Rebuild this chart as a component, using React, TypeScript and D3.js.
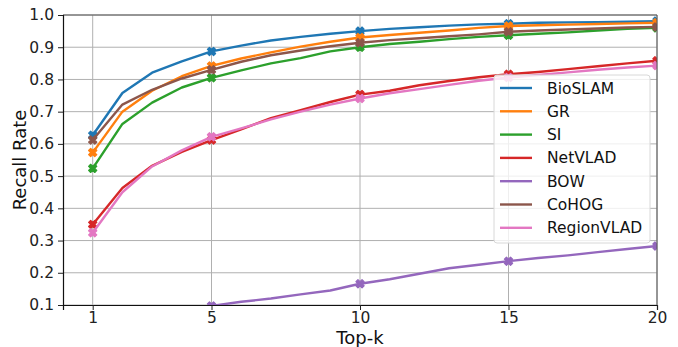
import React, { useEffect, useRef } from 'react';
import * as d3 from 'd3';

const topK = d3.range(1, 21);
const xTicks = [1, 5, 10, 15, 20];
const yTicks = [0.1, 0.2, 0.3, 0.4, 0.5, 0.6, 0.7, 0.8, 0.9, 1.0];

const bioslam = [0.627, 0.758, 0.821, 0.856, 0.887, 0.905, 0.921, 0.932, 0.942, 0.95, 0.957, 0.962, 0.967, 0.971, 0.973, 0.976, 0.977, 0.978, 0.979, 0.981];
const gr = [0.573, 0.7, 0.765, 0.81, 0.842, 0.865, 0.884, 0.902, 0.917, 0.93, 0.938, 0.945, 0.952, 0.96, 0.966, 0.968, 0.97, 0.972, 0.974, 0.976];
const si = [0.524, 0.662, 0.728, 0.775, 0.805, 0.828, 0.85, 0.866, 0.887, 0.9, 0.91, 0.917, 0.925, 0.932, 0.937, 0.942, 0.946, 0.952, 0.957, 0.96];
const netvlad = [0.35, 0.463, 0.532, 0.575, 0.612, 0.645, 0.68, 0.705, 0.73, 0.753, 0.765, 0.782, 0.795, 0.807, 0.816, 0.823, 0.832, 0.841, 0.85, 0.858];
const bow = [0.03, 0.05, 0.07, 0.083, 0.097, 0.11, 0.12, 0.133, 0.145, 0.166, 0.18, 0.197, 0.214, 0.225, 0.236, 0.246, 0.254, 0.264, 0.274, 0.283];
const cohog = [0.612, 0.722, 0.768, 0.803, 0.83, 0.855, 0.875, 0.89, 0.903, 0.914, 0.922, 0.928, 0.934, 0.94, 0.948, 0.952, 0.955, 0.958, 0.961, 0.963];
const regionvlad = [0.324, 0.45, 0.53, 0.58, 0.622, 0.648, 0.676, 0.7, 0.722, 0.741, 0.757, 0.77, 0.783, 0.796, 0.806, 0.814, 0.822, 0.83, 0.837, 0.843];

const seriesNames = ['BioSLAM', 'GR', 'SI', 'NetVLAD', 'BOW', 'CoHOG', 'RegionVLAD'];
const seriesValues = [bioslam, gr, si, netvlad, bow, cohog, regionvlad];
const colors = ['#1f77b4', '#ff7f0e', '#2ca02c', '#d62728', '#9467bd', '#8c564b', '#e377c2'];

const W = 678;
const H = 347;
const margin = { top: 15, right: 21, bottom: 42, left: 63 };

export default function App() {
  const ref = useRef<SVGSVGElement>(null);

  useEffect(() => {
    const svg = d3.select(ref.current);
    svg.selectAll('*').remove();
    const font = 'DejaVu Sans, sans-serif';

    const x = d3.scaleLinear().domain([0, 20]).range([margin.left, W - margin.right]);
    const y = d3.scaleLinear().domain([0.1, 1.0]).range([H - margin.bottom, margin.top]);

    svg.append('rect').attr('width', W).attr('height', H).attr('fill', '#fff');

    svg.append('clipPath').attr('id', 'plot-clip')
      .append('rect')
      .attr('x', margin.left).attr('y', margin.top)
      .attr('width', x(20) - margin.left).attr('height', y(0.1) - margin.top);

    // grid
    const grid = svg.append('g').attr('stroke', '#b0b0b0').attr('stroke-width', 1);
    xTicks.forEach((t) => {
      grid.append('line').attr('x1', x(t)).attr('x2', x(t)).attr('y1', y(0.1)).attr('y2', y(1.0));
    });
    yTicks.forEach((t) => {
      grid.append('line').attr('x1', x(0)).attr('x2', x(20)).attr('y1', y(t)).attr('y2', y(t));
    });

    // lines
    const line = d3.line<number>().x((_, i) => x(topK[i])).y((d) => y(d));
    const plot = svg.append('g').attr('clip-path', 'url(#plot-clip)');
    const marker = d3.symbol().type(d3.symbolCross).size(42);
    seriesValues.forEach((vals, si) => {
      plot.append('path').datum(vals)
        .attr('d', line)
        .attr('fill', 'none')
        .attr('stroke', colors[si])
        .attr('stroke-width', 2.4)
        .attr('stroke-linejoin', 'round');
      xTicks.forEach((k) => {
        const v = vals[k - 1];
        plot.append('path')
          .attr('d', marker)
          .attr('transform', `translate(${x(k)},${y(v)}) rotate(45)`)
          .attr('fill', colors[si])
          .attr('stroke', colors[si])
          .attr('stroke-width', 1.2)
          .attr('stroke-linejoin', 'round');
      });
    });

    // spines
    svg.append('line').attr('x1', x(0)).attr('x2', x(20)).attr('y1', y(1.0)).attr('y2', y(1.0)).attr('stroke', '#555').attr('stroke-width', 1);
    svg.append('line').attr('x1', x(20)).attr('x2', x(20)).attr('y1', y(0.1)).attr('y2', y(1.0)).attr('stroke', '#555').attr('stroke-width', 1);

    const xAxis = svg.append('g')
      .attr('transform', `translate(0,${y(0.1)})`)
      .call(d3.axisBottom(x).tickValues(xTicks).tickFormat(d3.format('d')).tickSize(5).tickPadding(2));
    const yAxis = svg.append('g')
      .attr('transform', `translate(${x(0)},0)`)
      .call(d3.axisLeft(y).tickValues(yTicks).tickFormat(d3.format('.1f')).tickSize(5).tickPadding(4));
    [xAxis, yAxis].forEach((a) => {
      a.selectAll('text').attr('font-family', font).attr('font-size', 15.5).attr('fill', '#222');
      a.selectAll('line').attr('stroke', '#222');
      a.select('.domain').attr('stroke', '#111').attr('stroke-width', 1.2);
    });

    svg.append('text')
      .attr('x', (x(0) + x(20)) / 2).attr('y', 344)
      .attr('text-anchor', 'middle')
      .attr('font-family', font).attr('font-size', 18).attr('fill', '#111')
      .text('Top-k');
    svg.append('text')
      .attr('transform', `translate(26,${(y(0.1) + y(1.0)) / 2}) rotate(-90)`)
      .attr('text-anchor', 'middle')
      .attr('font-family', font).attr('font-size', 18).attr('fill', '#111')
      .text('Recall Rate');

    // legend
    const lg = svg.append('g').attr('transform', 'translate(494,75)');
    lg.append('rect')
      .attr('width', 156).attr('height', 168).attr('rx', 3)
      .attr('fill', 'rgba(255,255,255,0.8)')
      .attr('stroke', '#d8d8d8');
    seriesNames.forEach((name, i) => {
      const cy = 13 + i * 23.3;
      lg.append('line').attr('x1', 6).attr('x2', 38).attr('y1', cy).attr('y2', cy)
        .attr('stroke', colors[i]).attr('stroke-width', 2.4);
      lg.append('text').attr('x', 53).attr('y', cy + 5.5)
        .attr('font-family', font).attr('font-size', 15.5).attr('fill', '#111')
        .text(name);
    });
  }, []);

  return <svg ref={ref} width={W} height={H} style={{ display: 'block', position: 'absolute', left: 0, top: 0 }} />;
}
